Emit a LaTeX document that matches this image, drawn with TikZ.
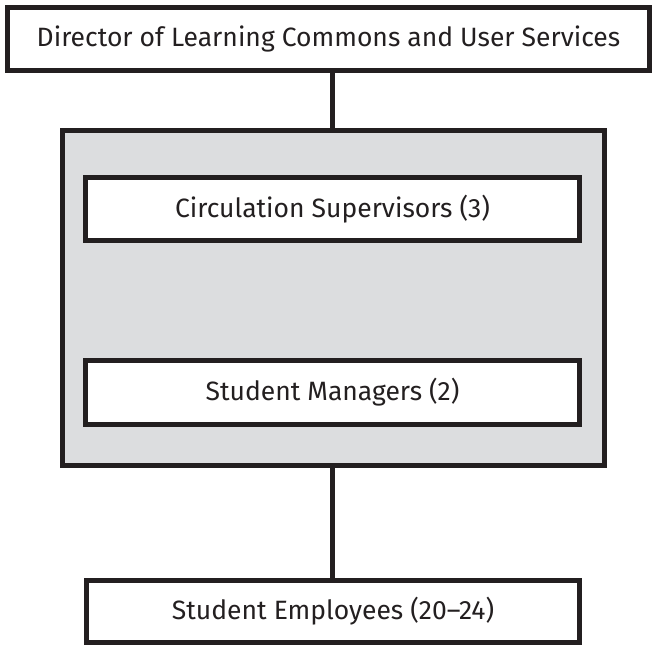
\documentclass[tikz,border=0pt]{standalone}
\usepackage{fontspec}
\setmainfont{Fira Sans}
\definecolor{ink}{HTML}{231F20}
\definecolor{panel}{HTML}{DCDDDF}
\begin{document}
\begin{tikzpicture}[x=1pt,y=1pt,
  box/.style={draw=ink,line width=5pt,fill=white,rectangle,inner sep=0pt,
    font=\fontsize{26.5}{32}\selectfont,text=ink},
  group/.style={draw=ink,line width=5pt,fill=panel,rectangle,inner sep=0pt},
  link/.style={draw=ink,line width=5pt}]
\useasboundingbox (0,0) rectangle (652,645);
% positions: y measured from top, converted
\node[group,minimum width=542pt,minimum height=335pt] (grp) at (333.5,645-298) {};
\node[box,minimum width=642pt,minimum height=63pt] (dir) at (328.5,645-39) {Director of Learning Commons and User Services};
\node[box,minimum width=494pt,minimum height=63pt] (circ) at (332.5,645-209) {Circulation Supervisors (3)};
\node[box,minimum width=494pt,minimum height=64pt] (mgr) at (332.5,645-392.5) {Student Managers (2)};
\node[box,minimum width=493pt,minimum height=62pt] (emp) at (333,645-611.5) {Student Employees (20–24)};
\draw[link] (circ.north |- dir.south) -- (circ.north |- grp.north);
\draw[link] (circ.north |- grp.south) -- (circ.north |- emp.north);
\end{tikzpicture}
\end{document}
